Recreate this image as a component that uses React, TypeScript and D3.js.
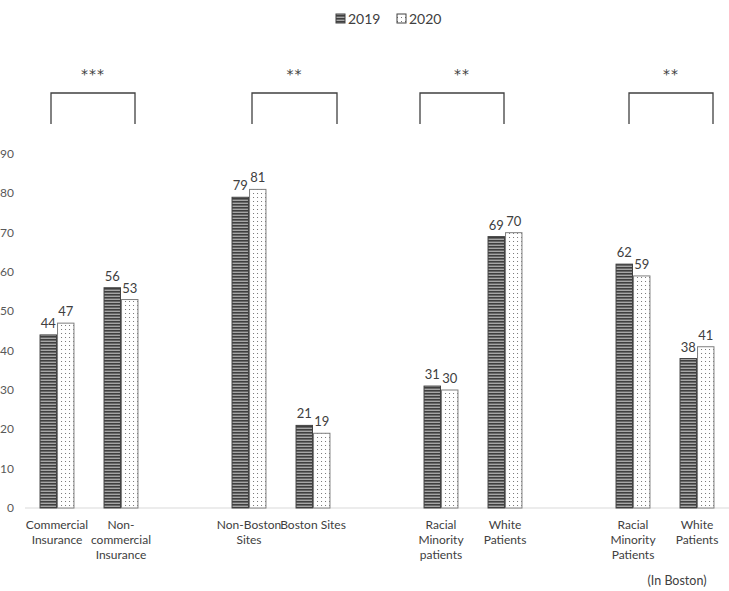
import React from "react";
import * as d3 from "d3";

// slots: empty ones are the gaps between groups
const slots = ["ci", "nci", "g1", "nbs", "bs", "g2", "rmp", "wp", "g3", "rmpb", "wpb"];
const categories = ["ci", "nci", "nbs", "bs", "rmp", "wp", "rmpb", "wpb"];
const categoryLabels = [
  ["Commercial", "Insurance"],
  ["Non-", "commercial", "Insurance"],
  ["Non-Boston", "Sites"],
  ["Boston Sites"],
  ["Racial", "Minority", "patients"],
  ["White", "Patients"],
  ["Racial", "Minority", "Patients"],
  ["White", "Patients"],
];
const series = ["2019", "2020"];
const values2019 = [44, 56, 79, 21, 31, 69, 62, 38];
const values2020 = [47, 53, 81, 19, 30, 70, 59, 41];
const yTicks = [0, 10, 20, 30, 40, 50, 60, 70, 80, 90];

// significance brackets: from category, to category, label
const brackets = [
  { from: "ci", to: "nci", dl: -6, dr: 14, label: "***" },
  { from: "nbs", to: "bs", dl: 3, dr: 24, label: "**" },
  { from: "rmp", to: "wp", dl: -21, dr: -1, label: "**" },
  { from: "rmpb", to: "wpb", dl: -4, dr: 16, label: "**" },
];

const W = 729;
const H = 591;
const font = "Lato, 'Noto Sans', sans-serif";

export default function App() {
  const x = d3.scaleBand<string>().domain(slots).range([25, 729]).paddingInner(0.47).paddingOuter(0.235);
  const xs = d3.scaleBand<string>().domain(series).range([0, x.bandwidth()]).paddingInner(0.06);
  const y = d3.scaleLinear().domain([0, 90]).range([508, 154]);
  const center = (c: string) => (x(c) ?? 0) + x.bandwidth() / 2;

  const rows = categories.map((c, i) => ({ c, v: [values2019[i], values2020[i]] }));

  return (
    <svg width={W} height={H} style={{ position: "absolute", left: 0, top: 0, background: "#fff" }} fontFamily={font}>
      <defs>
        <pattern id="stripes" width="4" height="3" patternUnits="userSpaceOnUse">
          <rect width="4" height="3" fill="#a6a6a6" />
          <rect width="4" height="1.6" fill="#3f3f3f" />
        </pattern>
        <pattern id="dots" width="4" height="4" patternUnits="userSpaceOnUse">
          <rect width="4" height="4" fill="#fff" />
          <rect x="1" y="1" width="1" height="1" fill="#777" />
        </pattern>
      </defs>

      {/* legend */}
      <g fontSize={14} fill="#404040">
        <rect x={336} y={14} width={9} height={9} fill="url(#stripes)" stroke="#404040" />
        <text x={348} y={24}>2019</text>
        <rect x={397} y={14} width={9} height={9} fill="url(#dots)" stroke="#404040" />
        <text x={409} y={24}>2020</text>
      </g>

      {/* y ticks */}
      {yTicks.map((t) => (
        <text key={t} x={14} y={y(t) + 4} textAnchor="end" fontSize={12} fill="#595959">
          {t}
        </text>
      ))}

      {/* baseline */}
      <line x1={25} x2={729} y1={y(0)} y2={y(0)} stroke="#d9d9d9" strokeWidth={1} />

      {/* bars */}
      {rows.map((r) => (
        <g key={r.c} transform={`translate(${x(r.c)},0)`}>
          {series.map((s, j) => (
            <g key={s}>
              <rect
                x={xs(s)}
                y={y(r.v[j])}
                width={xs.bandwidth()}
                height={y(0) - y(r.v[j])}
                fill={j === 0 ? "url(#stripes)" : "url(#dots)"}
                stroke={j === 0 ? "#404040" : "#7f7f7f"}
                strokeWidth={1}
              />
              <text
                x={(xs(s) ?? 0) + xs.bandwidth() / 2}
                y={y(r.v[j]) - 7}
                textAnchor="middle"
                fontSize={13}
                fill="#404040"
              >
                {r.v[j]}
              </text>
            </g>
          ))}
        </g>
      ))}

      {/* category labels */}
      {categories.map((c, i) => (
        <text key={c} x={center(c)} y={529} textAnchor="middle" fontSize={12} fill="#404040">
          {categoryLabels[i].map((l, k) => (
            <tspan key={k} x={center(c)} dy={k === 0 ? 0 : 15}>
              {l}
            </tspan>
          ))}
        </text>
      ))}
      <text x={center("wpb") - 20} y={585} textAnchor="middle" fontSize={12.5} fill="#404040">
        (In Boston)
      </text>

      {/* brackets */}
      {brackets.map((b, i) => {
        const x1 = center(b.from) + b.dl;
        const x2 = center(b.to) + b.dr;
        return (
          <g key={i}>
            <path d={`M${x1},124V93H${x2}V124`} fill="none" stroke="#404040" strokeWidth={1.3} />
            <text
              x={(x1 + x2) / 2}
              y={79}
              textAnchor="middle"
              fontSize={14}
              letterSpacing={1}
              fontFamily="'DejaVu Sans', sans-serif"
              fill="#404040"
            >
              {b.label}
            </text>
          </g>
        );
      })}
    </svg>
  );
}
